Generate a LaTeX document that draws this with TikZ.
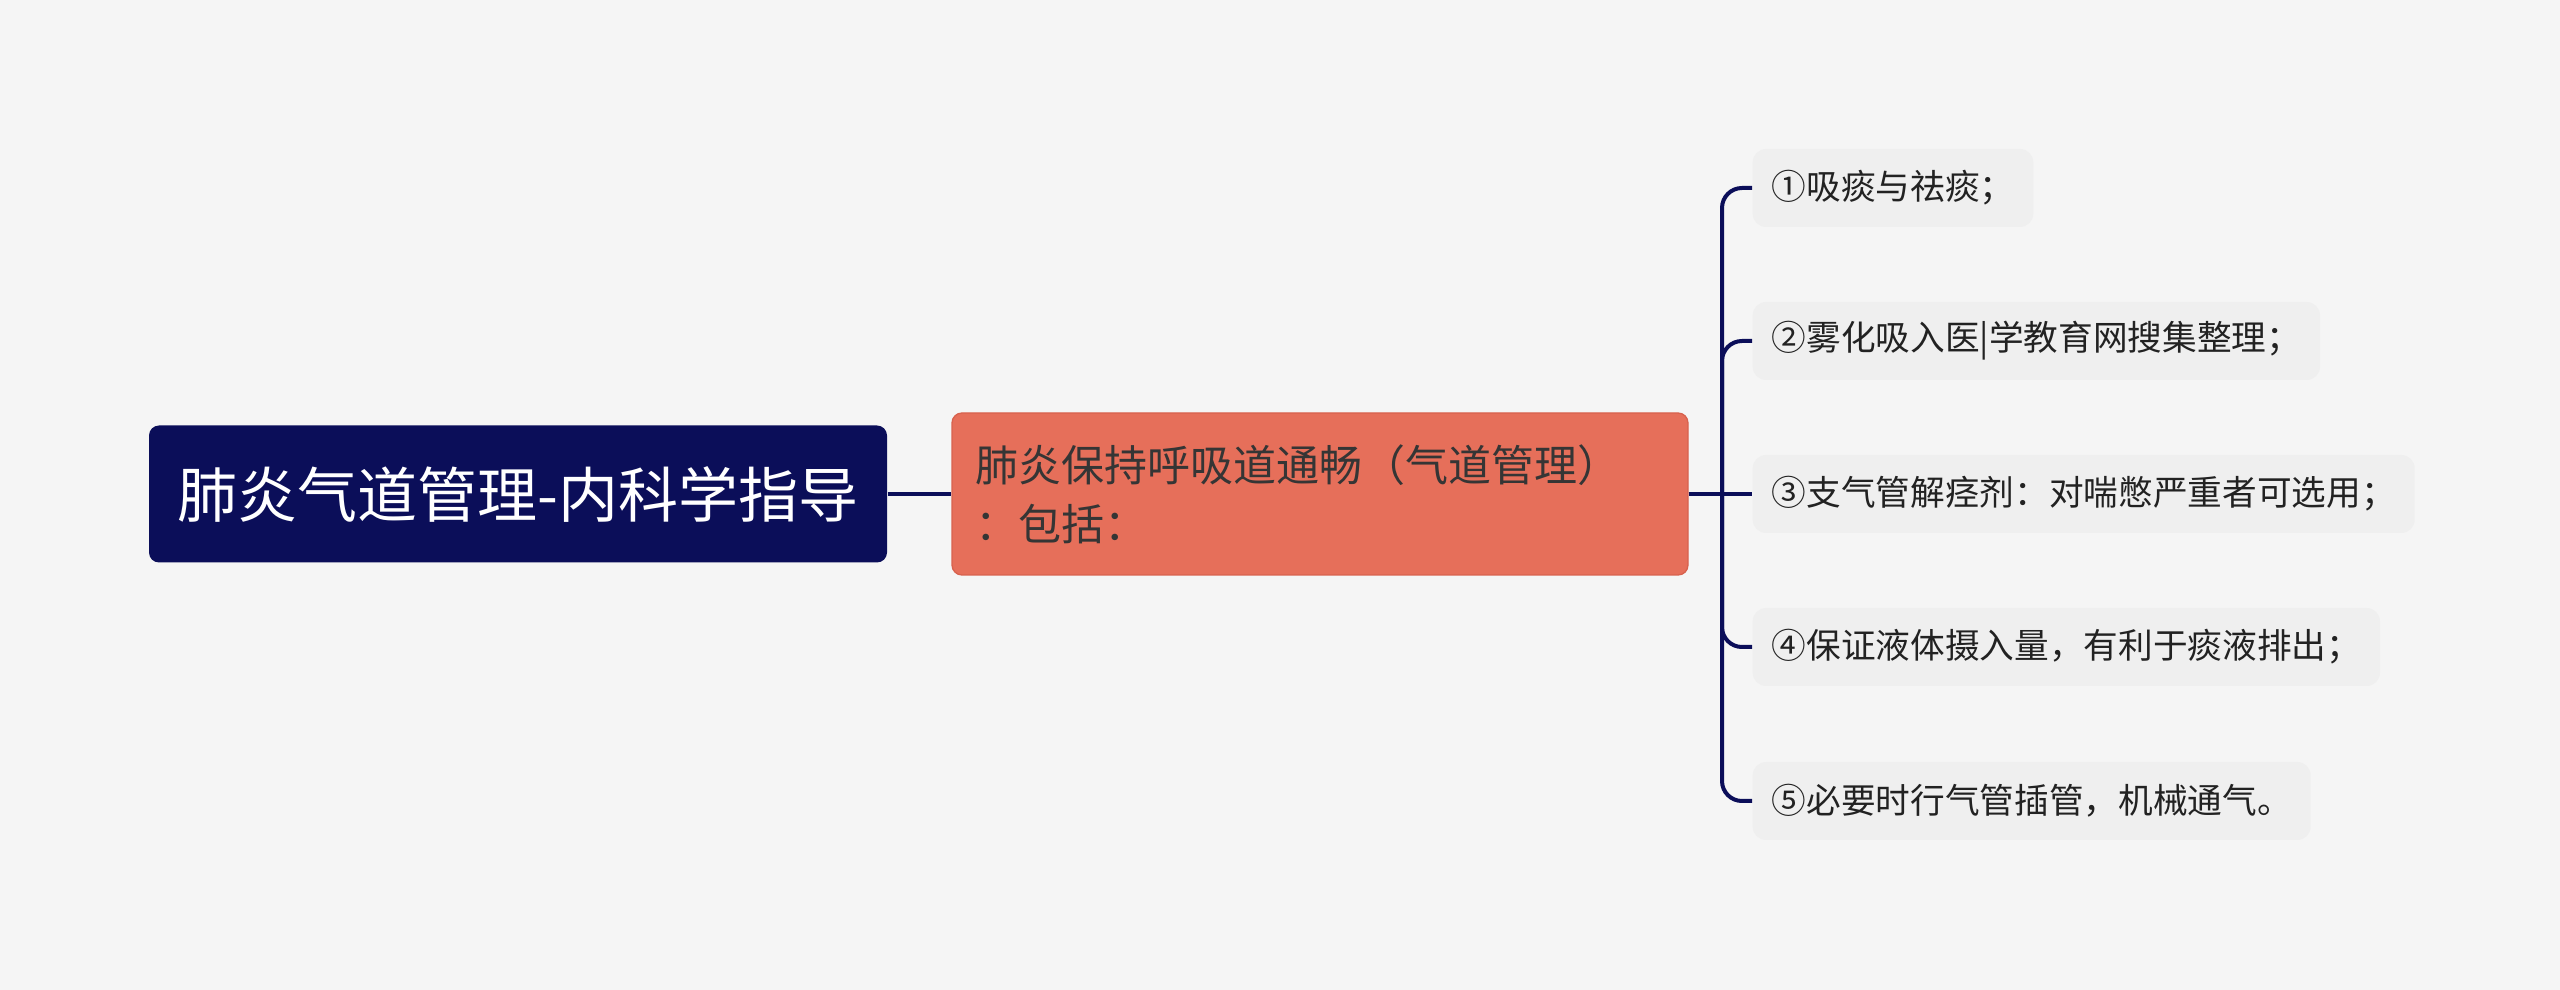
\documentclass[tikz,border=0pt]{standalone}
\usepackage{fontspec}
\setmainfont{Noto Sans CJK SC}
\usetikzlibrary{positioning}
\definecolor{bgcol}{HTML}{F5F5F5}
\definecolor{navy}{HTML}{0B0E59}
\definecolor{salmon}{HTML}{E66F5A}
\definecolor{salmonline}{HTML}{D8624E}
\definecolor{leafcol}{HTML}{EFEFEF}
\definecolor{inkgray}{HTML}{353535}
\definecolor{leafink}{HTML}{222222}

\begin{document}
\begin{tikzpicture}[x=0.3pt, y=-0.3pt,
    rootbox/.style={fill=navy, text=white, rounded corners=3pt,
        minimum width=221.4pt, minimum height=41.1pt,
        font=\fontsize{18pt}{22pt}\selectfont},
    midbox/.style={fill=salmon, draw=salmonline, line width=0.4pt,
        rounded corners=3pt, text=inkgray, align=left,
        text width=207pt, inner xsep=6.9pt, minimum height=48.6pt,
        font=\fontsize{12.9pt}{17.7pt}\selectfont},
    leafbox/.style={fill=leafcol, text=leafink, rounded corners=4pt,
        anchor=west, inner xsep=5.7pt, minimum height=23.4pt,
        font=\fontsize{10.4pt}{12pt}\selectfont},
    link/.style={draw=navy, line width=1.2pt},
    branch/.style={link, rounded corners=6pt}]

    % background
    \fill[bgcol] (0,0) rectangle (2560,990);

    \node[rootbox] (root) at (518,494) {肺炎气道管理-内科学指导};
    \node[midbox] (airway) at (1320,494) {肺炎保持呼吸道通畅（气道管理）\\：包括：};

    \node[leafbox] (suck)  at (1752,188) {①吸痰与祛痰；};
    \node[leafbox] (mist)  at (1752,341) {②雾化吸入医|学教育网搜集整理；};
    \node[leafbox] (spasm) at (1752,494) {③支气管解痉剂：对喘憋严重者可选用；};
    \node[leafbox] (fluid) at (1752,647) {④保证液体摄入量，有利于痰液排出；};
    \node[leafbox] (tube)  at (1752,801) {⑤必要时行气管插管，机械通气。};

    \coordinate (fork) at (1722,494);

    \draw[link] (root.east) -- (airway.west);
    \draw[link] (airway.east) -- (spasm.west);
    \draw[branch] (fork) |- (suck.west);
    \draw[branch] (fork) |- (mist.west);
    \draw[branch] (fork) |- (fluid.west);
    \draw[branch] (fork) |- (tube.west);
\end{tikzpicture}
\end{document}
